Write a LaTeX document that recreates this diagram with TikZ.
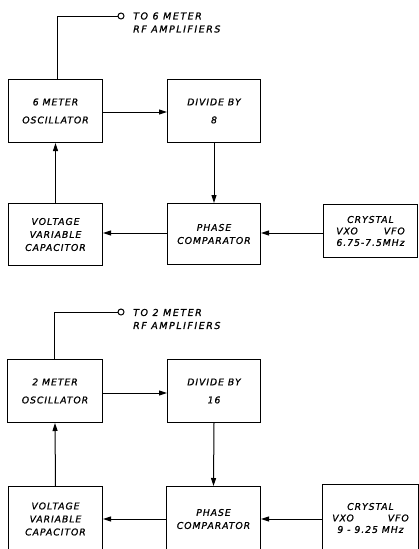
\documentclass[tikz,border=0pt]{standalone}
\usepackage{fontspec}
\newfontfamily\lbl{DejaVu Sans}[LetterSpace=10,FakeBold=0.9]
\newfontfamily\lblw{DejaVu Sans}[LetterSpace=16,FakeBold=0.9]
\usetikzlibrary{arrows.meta}
\begin{document}
\begin{tikzpicture}[x=1pt,y=-1pt,
  every node/.style={font=\lbl\itshape\fontsize{9.3}{13}\selectfont},
  blk/.style={draw, line width=1pt, anchor=north west, inner sep=0pt, align=center},
  wire/.style={line width=1pt},
  arr/.style={line width=1pt, -{Triangle[length=8pt,width=5pt]}},
  lab/.style={anchor=west, align=left, inner sep=0pt, font=\lblw\itshape\fontsize{9.5}{13}\selectfont}]
\useasboundingbox (0,0) rectangle (419,549);
\clip (0,0) rectangle (419,549);
% ---------- 6 meter section ----------
\node[blk, minimum width=94pt, minimum height=63pt] (osc1) at (8,79) {6 METER\\[5pt]OSCILLATOR};
\node[blk, minimum width=93pt, minimum height=63pt] (div1) at (167,79) {DIVIDE BY\\[5pt]8};
\node[blk, minimum width=94pt, minimum height=62pt] (vvc1) at (8,203) {VOLTAGE\\VARIABLE\\CAPACITOR};
\node[blk, minimum width=93pt, minimum height=61pt] (pc1) at (167,203) {PHASE\\COMPARATOR};
\node[blk, minimum width=94pt, minimum height=53pt, font=\lbl\itshape\fontsize{9.3}{11.5}\selectfont] (cry1) at (323,204) {CRYSTAL\\VXO\hspace{26pt}VFO\\6.75-7.5MHz};
\coordinate (t1) at (57,16);
\node[circle, draw, line width=1pt, minimum size=6pt, inner sep=0pt] (o1) at (121,16) {};
\node[lab] (l1) at (133,22.5) {TO 6 METER\\RF AMPLIFIERS};
\draw[wire] (osc1.north -| t1) -- (t1) -- (o1.west);
\draw[arr] (osc1.east |- 0,112) -- (div1.west |- 0,112);
\draw[arr] (div1.south) -- (pc1.north);
\draw[arr] (pc1.west |- 0,233) -- (vvc1.east |- 0,233);
\draw[arr] (cry1.west |- 0,233) -- (pc1.east |- 0,233);
\draw[arr] (vvc1.north) -- (osc1.south);
% ---------- 2 meter section ----------
\node[blk, minimum width=95pt, minimum height=63pt] (osc2) at (7,359) {2 METER\\[5pt]OSCILLATOR};
\node[blk, minimum width=93pt, minimum height=63pt] (div2) at (167,359) {DIVIDE BY\\[5pt]16};
\node[blk, minimum width=94pt, minimum height=65pt] (vvc2) at (8,486) {VOLTAGE\\VARIABLE\\CAPACITOR};
\node[blk, minimum width=94pt, minimum height=65pt] (pc2) at (166,486) {PHASE\\COMPARATOR};
\node[blk, minimum width=96pt, minimum height=67pt, font=\lbl\itshape\fontsize{9.3}{11.5}\selectfont] (cry2) at (322,484) {CRYSTAL\\VXO\hspace{34pt}VFO\\9 - 9.25 MHz};
\coordinate (t2) at (54,312);
\node[circle, draw, line width=1pt, minimum size=6pt, inner sep=0pt] (o2) at (121,312) {};
\node[lab] (l2) at (133,319) {TO 2 METER\\RF AMPLIFIERS};
\draw[wire] (osc2.north -| t2) -- (t2) -- (o2.west);
\draw[arr] (osc2.east |- 0,393) -- (div2.west |- 0,393);
\draw[arr] (div2.south) -- (pc2.north);
\draw[arr] (pc2.west |- 0,519) -- (vvc2.east |- 0,519);
\draw[arr] (cry2.west |- 0,519) -- (pc2.east |- 0,519);
\draw[arr] (vvc2.north) -- (osc2.south);
\end{tikzpicture}
\end{document}
